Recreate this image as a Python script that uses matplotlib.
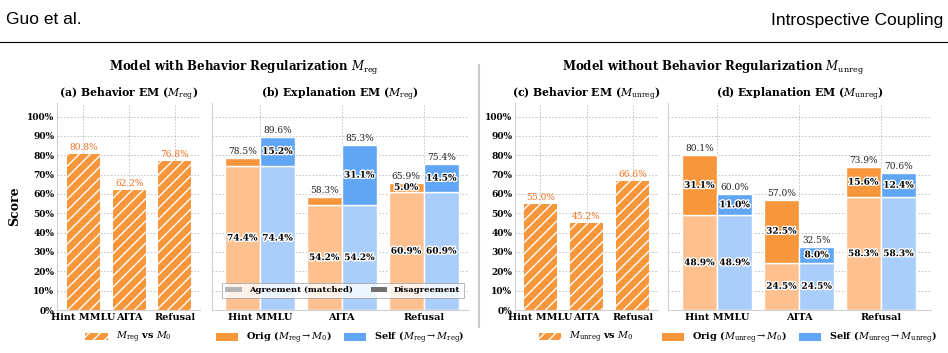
import numpy as np
import matplotlib
matplotlib.use('Agg')
import matplotlib.pyplot as plt
import matplotlib.patheffects as pe
from matplotlib.patches import Patch
from matplotlib.lines import Line2D

plt.rcParams['font.family'] = 'DejaVu Serif'
plt.rcParams['mathtext.fontset'] = 'dejavuserif'
plt.rcParams['hatch.linewidth'] = 1.0
plt.rcParams['hatch.color'] = 'white'

# data
tasks = ['Hint MMLU', 'AITA', 'Refusal']

beh_reg = [80.8, 62.2, 76.8]
beh_unreg = [55.0, 45.2, 66.6]

# explanation EM, reg model
agree_reg = [74.4, 54.2, 60.9]
orig_dis_reg = [4.1, 4.1, 5.0]
self_dis_reg = [15.2, 31.1, 14.5]
orig_tot_reg = [78.5, 58.3, 65.9]
self_tot_reg = [89.6, 85.3, 75.4]

# explanation EM, unreg model
agree_unreg = [48.9, 24.5, 58.3]
orig_dis_unreg = [31.1, 32.5, 15.6]
self_dis_unreg = [11.0, 8.0, 12.4]
orig_tot_unreg = [80.1, 57.0, 73.9]
self_tot_unreg = [60.0, 32.5, 70.6]

yticks = list(range(0, 101, 10))

ORANGE = '#F8963C'
ORANGE_L = '#FDC08E'
BLUE = '#61A5F5'
BLUE_L = '#A9CEFB'
LABEL_OR = '#F2701F'

W, H = 948, 353
fig = plt.figure(figsize=(W / 100, H / 100), dpi=100)


def px_axes(l, r, top=103, bot=310):
    return fig.add_axes([l / W, (H - bot) / H, (r - l) / W, (bot - top) / H])


def style(ax, xlim, ticklabels=True):
    ax.set_ylim(0, 107)
    ax.set_xlim(*xlim)
    ax.set_yticks(yticks)
    ax.set_xticks(range(len(tasks)))
    ax.set_xticklabels(tasks, fontsize=7, fontweight='bold')
    if ticklabels:
        ax.set_yticklabels([f'{t}%' for t in yticks], fontsize=6.5, fontweight='bold')
    else:
        ax.set_yticklabels([])
    ax.tick_params(length=0, pad=2)
    ax.grid(True, color='#bdbdbd', linestyle=(0, (2, 2)), linewidth=0.6)
    ax.set_axisbelow(True)
    for s in ['top', 'right']:
        ax.spines[s].set_visible(False)
    for s in ['left', 'bottom']:
        ax.spines[s].set_color('#d0d0d0')
        ax.spines[s].set_linewidth(0.8)


outline = [pe.withStroke(linewidth=2, foreground='white')]


def behavior(ax, vals, sub, title_tag):
    x = np.arange(len(tasks))
    ax.bar(x, vals, width=0.72, color=ORANGE, edgecolor='white', hatch='///', linewidth=0)
    for xi, v in zip(x, vals):
        ax.text(xi, v + 1.0, f'{v:.1f}%', ha='center', va='bottom', fontsize=6.5, color=LABEL_OR)
    ax.set_title(f'({title_tag}) Behavior EM ($M_{{\\mathrm{{{sub}}}}}$)', fontsize=7.8, fontweight='bold', pad=2)
    h = [Patch(facecolor=ORANGE, edgecolor='white', hatch='///', linewidth=0)]
    ax.legend(h, [f'$M_{{\\mathrm{{{sub}}}}}$ vs $M_0$'], loc='center', bbox_to_anchor=(0.5, -0.135),
              frameon=False, handlelength=2.3, handleheight=0.8, prop={'weight': 'bold', 'size': 7})


def explanation(ax, agree, odis, sdis, otot, stot, sub, title_tag, inner_legend=False):
    x = np.arange(len(tasks))
    w = 0.43
    xo, xs = x - w / 2, x + w / 2
    ax.bar(xo, agree, width=w, color=ORANGE_L, edgecolor='white', linewidth=1)
    ax.bar(xo, odis, bottom=agree, width=w, color=ORANGE, edgecolor='white', linewidth=1)
    ax.bar(xs, agree, width=w, color=BLUE_L, edgecolor='white', linewidth=1)
    ax.bar(xs, sdis, bottom=agree, width=w, color=BLUE, edgecolor='white', linewidth=1)
    for i in range(len(tasks)):
        for xx in (xo[i], xs[i]):
            ax.text(xx, agree[i] / 2, f'{agree[i]:.1f}%', ha='center', va='center', fontsize=6.5,
                    fontweight='bold', path_effects=outline)
        for xx, d in ((xo[i], odis[i]), (xs[i], sdis[i])):
            if d >= 4.5:
                ax.text(xx, agree[i] + d / 2, f'{d:.1f}%', ha='center', va='center', fontsize=6.5,
                        fontweight='bold', path_effects=outline)
        ax.text(xo[i], otot[i] + 1.0, f'{otot[i]:.1f}%', ha='center', va='bottom', fontsize=6.5, color='#222222')
        ax.text(xs[i], stot[i] + 1.0, f'{stot[i]:.1f}%', ha='center', va='bottom', fontsize=6.5, color='#222222')
    ax.set_title(f'({title_tag}) Explanation EM ($M_{{\\mathrm{{{sub}}}}}$)', fontsize=7.8, fontweight='bold', pad=2)
    h = [Patch(facecolor=ORANGE, edgecolor='none'), Patch(facecolor=BLUE, edgecolor='none')]
    labs = [f'Orig ($M_{{\\mathrm{{{sub}}}}} \\rightarrow M_0$)',
            f'Self ($M_{{\\mathrm{{{sub}}}}} \\rightarrow M_{{\\mathrm{{{sub}}}}}$)']
    leg = ax.legend(h, labs, loc='center', bbox_to_anchor=(0.5, -0.135), ncol=2, frameon=False,
                    handlelength=2.3, handleheight=0.8, columnspacing=1.2, prop={'weight': 'bold', 'size': 7})
    if inner_legend:
        ax.add_artist(leg)
        h2 = [Patch(facecolor='#b5b5b5', edgecolor='none'), Patch(facecolor='#707070', edgecolor='none')]
        l2 = ax.legend(h2, ['Agreement (matched)', 'Disagreement'], loc='lower right', bbox_to_anchor=(1.0, 0.04),
                       ncol=2, frameon=True, fancybox=False, handlelength=2.0, handleheight=0.6,
                       columnspacing=2.2, borderpad=0.4, prop={'weight': 'bold', 'size': 6})
        l2.get_frame().set_edgecolor('#999999')
        l2.get_frame().set_linewidth(0.6)


ax_a = px_axes(57, 200)
style(ax_a, (-0.58, 2.55))
behavior(ax_a, beh_reg, 'reg', 'a')
ax_a.set_ylabel('Score', fontsize=9, fontweight='bold', labelpad=4)

ax_b = px_axes(212, 468)
style(ax_b, (-0.585, 2.54), ticklabels=False)
explanation(ax_b, agree_reg, orig_dis_reg, self_dis_reg, orig_tot_reg, self_tot_reg, 'reg', 'b', inner_legend=True)

ax_c = px_axes(515, 658)
style(ax_c, (-0.55, 2.55))
behavior(ax_c, beh_unreg, 'unreg', 'c')

ax_d = px_axes(668, 931)
style(ax_d, (-0.6, 2.61), ticklabels=False)
explanation(ax_d, agree_unreg, orig_dis_unreg, self_dis_unreg, orig_tot_unreg, self_tot_unreg, 'unreg', 'd')

# group titles
fig.text(244 / W, 1 - 68 / H, 'Model with Behavior Regularization $M_{\\mathrm{reg}}$', ha='center', va='center',
         fontsize=8.5, fontweight='bold')
fig.text(713 / W, 1 - 68 / H, 'Model without Behavior Regularization $M_{\\mathrm{unreg}}$', ha='center',
         va='center', fontsize=8.5, fontweight='bold')

# divider
fig.add_artist(Line2D([479 / W, 479 / W], [1 - 65 / H, 1 - 327 / H], color='#c8c8c8', linewidth=1.5))

# page header
hdr = ['Liberation Sans', 'DejaVu Sans']
fig.text(6 / W, 1 - 20 / H, 'Guo et al.', ha='left', va='center', fontsize=12.5, family=hdr)
fig.text(943 / W, 1 - 20 / H, 'Introspective Coupling', ha='right', va='center', fontsize=12.5, family=hdr)
fig.add_artist(Line2D([0, 1], [1 - 42 / H, 1 - 42 / H], color='black', linewidth=0.8))

fig.savefig('out.png', dpi=100)
